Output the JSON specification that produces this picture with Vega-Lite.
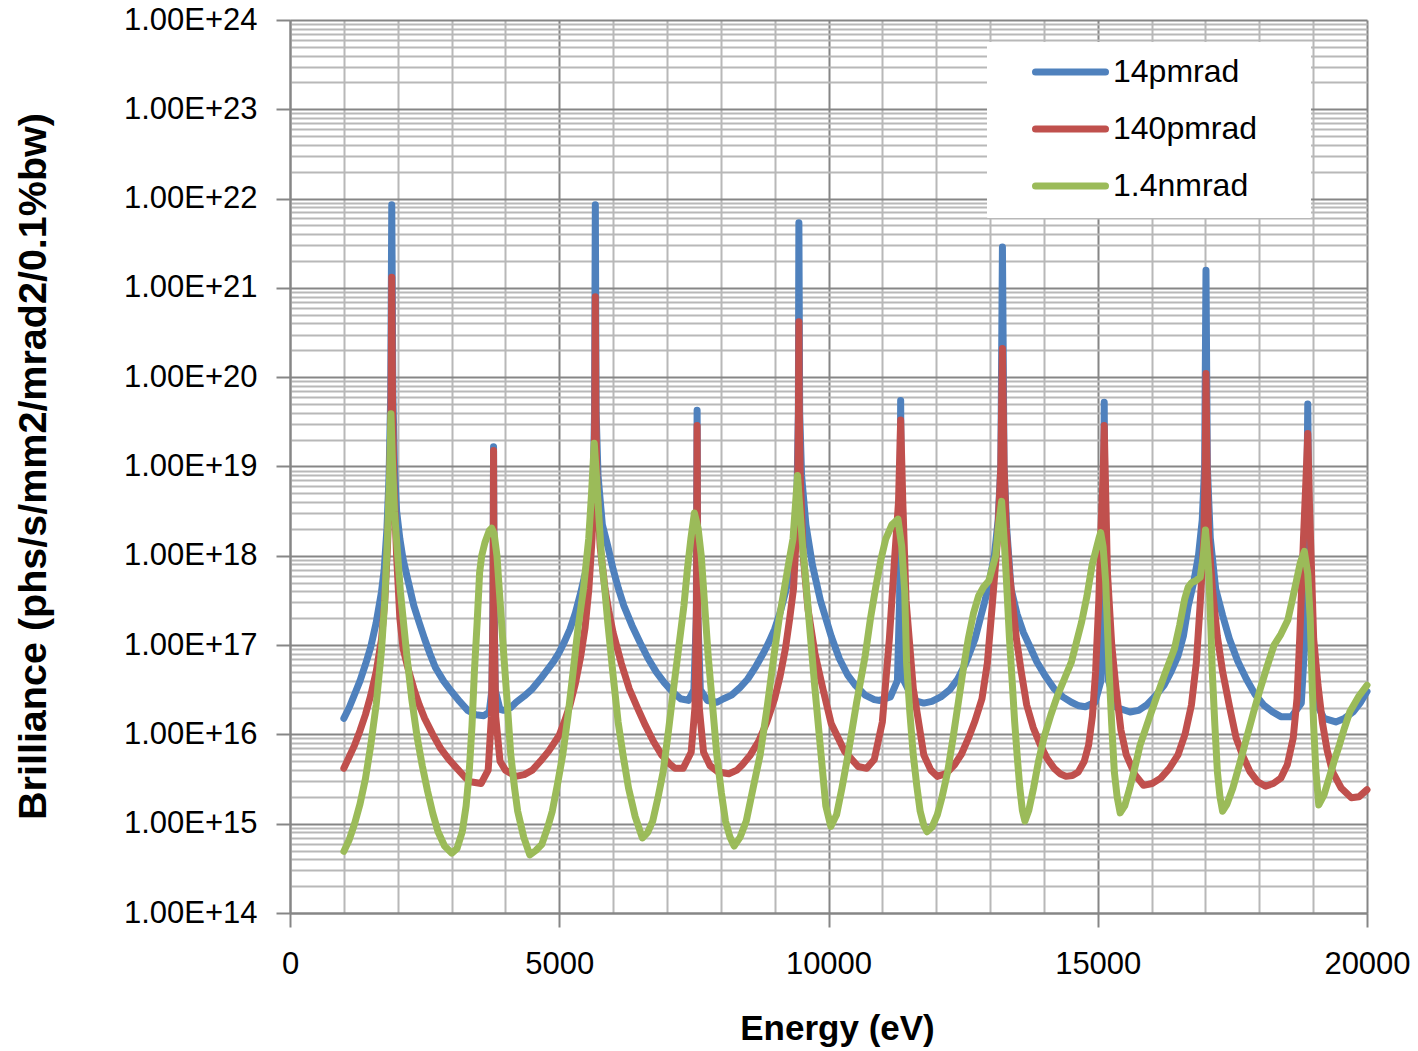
{
  "$schema": "https://vega.github.io/schema/vega-lite/v6.json",
  "width": 1077,
  "height": 893,
  "autosize": {"type": "none"},
  "padding": {"left": 290, "top": 20, "right": 51, "bottom": 138},
  "background": "white",
  "config": {"view": {"stroke": null}, "font": "Liberation Sans"},
  "datasets": {
    "blue": [
      {"E":1000,"B":1.51e16},{"E":1100,"B":2.0e16},{"E":1200,"B":2.82e16},{"E":1300,"B":3.98e16},{"E":1400,"B":6.03e16},{"E":1500,"B":9.55e16},{"E":1600,"B":1.78e17},{"E":1700,"B":3.98e17},{"E":1750,"B":7.08e17},{"E":1800,"B":2.0e18},{"E":1840,"B":7.94e18},{"E":1870,"B":6.31e19},{"E":1890,"B":8.51e21},{"E":1910,"B":6.31e19},{"E":1940,"B":1.0e19},{"E":1980,"B":3.16e18},{"E":2040,"B":1.55e18},{"E":2100,"B":9.12e17},{"E":2200,"B":5.01e17},{"E":2300,"B":2.75e17},{"E":2400,"B":1.78e17},{"E":2500,"B":1.17e17},{"E":2600,"B":7.94e16},{"E":2700,"B":5.62e16},{"E":2850,"B":3.98e16},{"E":3000,"B":3.02e16},{"E":3150,"B":2.34e16},{"E":3300,"B":1.86e16},{"E":3450,"B":1.66e16},{"E":3600,"B":1.62e16},{"E":3700,"B":1.78e16},{"E":3750,"B":3.16e16},{"E":3770,"B":3.16e17},{"E":3780,"B":1.66e19},{"E":3790,"B":3.16e17},{"E":3810,"B":3.16e16},{"E":3900,"B":1.91e16},{"E":3970,"B":1.86e16},{"E":4100,"B":2.0e16},{"E":4200,"B":2.29e16},{"E":4350,"B":2.69e16},{"E":4500,"B":3.24e16},{"E":4650,"B":4.17e16},{"E":4800,"B":5.5e16},{"E":4900,"B":6.61e16},{"E":5000,"B":8.32e16},{"E":5100,"B":1.1e17},{"E":5200,"B":1.51e17},{"E":5300,"B":2.29e17},{"E":5400,"B":3.89e17},{"E":5500,"B":7.08e17},{"E":5580,"B":1.58e18},{"E":5630,"B":5.01e18},{"E":5655,"B":3.98e19},{"E":5670,"B":8.51e21},{"E":5685,"B":3.98e19},{"E":5720,"B":7.94e18},{"E":5800,"B":2.24e18},{"E":5900,"B":1.29e18},{"E":6000,"B":7.08e17},{"E":6100,"B":4.27e17},{"E":6200,"B":2.75e17},{"E":6350,"B":1.66e17},{"E":6500,"B":1.07e17},{"E":6650,"B":7.08e16},{"E":6800,"B":5.01e16},{"E":6950,"B":3.8e16},{"E":7100,"B":3.02e16},{"E":7250,"B":2.51e16},{"E":7400,"B":2.4e16},{"E":7500,"B":3.16e16},{"E":7545,"B":2.0e17},{"E":7560,"B":4.27e19},{"E":7575,"B":2.0e17},{"E":7620,"B":3.16e16},{"E":7750,"B":2.4e16},{"E":7930,"B":2.29e16},{"E":8050,"B":2.51e16},{"E":8200,"B":2.75e16},{"E":8350,"B":3.31e16},{"E":8500,"B":4.17e16},{"E":8650,"B":5.75e16},{"E":8800,"B":8.32e16},{"E":8900,"B":1.1e17},{"E":9000,"B":1.51e17},{"E":9100,"B":2.29e17},{"E":9200,"B":3.89e17},{"E":9300,"B":7.08e17},{"E":9370,"B":1.58e18},{"E":9415,"B":5.01e18},{"E":9440,"B":3.98e19},{"E":9450,"B":5.37e21},{"E":9465,"B":3.98e19},{"E":9500,"B":7.94e18},{"E":9580,"B":2.24e18},{"E":9700,"B":7.94e17},{"E":9850,"B":3.16e17},{"E":10050,"B":1.26e17},{"E":10200,"B":7.08e16},{"E":10360,"B":4.57e16},{"E":10500,"B":3.55e16},{"E":10680,"B":2.75e16},{"E":10850,"B":2.45e16},{"E":10950,"B":2.4e16},{"E":11150,"B":2.63e16},{"E":11280,"B":4.0e16},{"E":11320,"B":3.2e17},{"E":11340,"B":5.5e19},{"E":11360,"B":3.2e17},{"E":11400,"B":4.0e16},{"E":11550,"B":2.6e16},{"E":11650,"B":2.34e16},{"E":11770,"B":2.24e16},{"E":11920,"B":2.34e16},{"E":12085,"B":2.63e16},{"E":12250,"B":3.16e16},{"E":12400,"B":4.17e16},{"E":12550,"B":6.31e16},{"E":12720,"B":1.17e17},{"E":12820,"B":2.0e17},{"E":12915,"B":3.31e17},{"E":13000,"B":5.62e17},{"E":13080,"B":1.0e18},{"E":13150,"B":2.51e18},{"E":13200,"B":1.0e19},{"E":13230,"B":2.88e21},{"E":13260,"B":1.0e19},{"E":13310,"B":2.0e18},{"E":13390,"B":4.27e17},{"E":13500,"B":2.24e17},{"E":13620,"B":1.38e17},{"E":13750,"B":9.33e16},{"E":13870,"B":6.46e16},{"E":14030,"B":4.47e16},{"E":14190,"B":3.24e16},{"E":14350,"B":2.63e16},{"E":14510,"B":2.29e16},{"E":14650,"B":2.09e16},{"E":14770,"B":2.04e16},{"E":14950,"B":2.29e16},{"E":15060,"B":3.98e16},{"E":15100,"B":3.16e17},{"E":15120,"B":5.25e19},{"E":15140,"B":3.16e17},{"E":15200,"B":3.98e16},{"E":15350,"B":2.0e16},{"E":15600,"B":1.78e16},{"E":15760,"B":1.86e16},{"E":15910,"B":2.14e16},{"E":16070,"B":2.69e16},{"E":16230,"B":3.55e16},{"E":16360,"B":5.01e16},{"E":16490,"B":7.59e16},{"E":16590,"B":1.26e17},{"E":16680,"B":2.75e17},{"E":16780,"B":5.01e17},{"E":16870,"B":1.0e18},{"E":16940,"B":2.51e18},{"E":16985,"B":1.0e19},{"E":17010,"B":1.58e21},{"E":17035,"B":1.0e19},{"E":17090,"B":1.58e18},{"E":17190,"B":4.27e17},{"E":17320,"B":2.14e17},{"E":17445,"B":1.17e17},{"E":17600,"B":6.61e16},{"E":17760,"B":4.17e16},{"E":17920,"B":2.82e16},{"E":18080,"B":2.14e16},{"E":18250,"B":1.78e16},{"E":18400,"B":1.58e16},{"E":18600,"B":1.58e16},{"E":18780,"B":2.24e16},{"E":18860,"B":1.58e17},{"E":18900,"B":5.01e19},{"E":18940,"B":1.58e17},{"E":19020,"B":2.51e16},{"E":19200,"B":1.51e16},{"E":19420,"B":1.38e16},{"E":19580,"B":1.51e16},{"E":19740,"B":1.78e16},{"E":19870,"B":2.24e16},{"E":20000,"B":3.02e16}
    ],
    "red": [
      {"E":1000,"B":4.17e15},{"E":1100,"B":5.62e15},{"E":1200,"B":7.59e15},{"E":1300,"B":1.1e16},{"E":1400,"B":1.66e16},{"E":1500,"B":2.75e16},{"E":1600,"B":5.01e16},{"E":1700,"B":1.17e17},{"E":1760,"B":3.16e17},{"E":1810,"B":1.26e18},{"E":1850,"B":6.31e18},{"E":1875,"B":3.98e19},{"E":1890,"B":1.32e21},{"E":1905,"B":3.98e19},{"E":1930,"B":6.31e18},{"E":1980,"B":1.0e18},{"E":2040,"B":2.0e17},{"E":2100,"B":9.12e16},{"E":2200,"B":5.25e16},{"E":2300,"B":3.24e16},{"E":2400,"B":2.14e16},{"E":2500,"B":1.51e16},{"E":2650,"B":1.0e16},{"E":2800,"B":6.92e15},{"E":2950,"B":5.25e15},{"E":3100,"B":4.17e15},{"E":3250,"B":3.31e15},{"E":3350,"B":2.95e15},{"E":3550,"B":2.82e15},{"E":3680,"B":3.98e15},{"E":3740,"B":1.58e16},{"E":3770,"B":2.0e17},{"E":3780,"B":1.51e19},{"E":3790,"B":2.0e17},{"E":3820,"B":1.58e16},{"E":3900,"B":5.01e15},{"E":4000,"B":3.98e15},{"E":4195,"B":3.39e15},{"E":4350,"B":3.55e15},{"E":4500,"B":3.98e15},{"E":4650,"B":5.01e15},{"E":4800,"B":6.46e15},{"E":4900,"B":7.94e15},{"E":5000,"B":9.77e15},{"E":5100,"B":1.41e16},{"E":5200,"B":2.14e16},{"E":5300,"B":3.72e16},{"E":5400,"B":7.59e16},{"E":5480,"B":1.58e17},{"E":5550,"B":4.27e17},{"E":5610,"B":1.58e18},{"E":5645,"B":7.94e18},{"E":5660,"B":3.98e19},{"E":5670,"B":7.94e20},{"E":5680,"B":3.98e19},{"E":5700,"B":6.31e18},{"E":5760,"B":1.26e18},{"E":5850,"B":4.27e17},{"E":5920,"B":2.4e17},{"E":6000,"B":1.38e17},{"E":6150,"B":6.31e16},{"E":6300,"B":3.24e16},{"E":6450,"B":2.0e16},{"E":6600,"B":1.26e16},{"E":6750,"B":8.32e15},{"E":6900,"B":5.89e15},{"E":7050,"B":4.68e15},{"E":7150,"B":4.17e15},{"E":7300,"B":4.17e15},{"E":7450,"B":6.31e15},{"E":7520,"B":2.0e16},{"E":7550,"B":3.16e17},{"E":7560,"B":2.88e19},{"E":7570,"B":3.16e17},{"E":7600,"B":2.0e16},{"E":7680,"B":6.31e15},{"E":7800,"B":4.47e15},{"E":7950,"B":3.8e15},{"E":8150,"B":3.63e15},{"E":8300,"B":3.98e15},{"E":8400,"B":4.57e15},{"E":8550,"B":5.89e15},{"E":8700,"B":8.32e15},{"E":8850,"B":1.35e16},{"E":9000,"B":2.51e16},{"E":9100,"B":4.47e16},{"E":9200,"B":9.12e16},{"E":9280,"B":2.0e17},{"E":9350,"B":4.27e17},{"E":9400,"B":1.58e18},{"E":9430,"B":7.94e18},{"E":9442,"B":3.98e19},{"E":9450,"B":4.17e20},{"E":9458,"B":3.98e19},{"E":9475,"B":7.94e18},{"E":9530,"B":1.0e18},{"E":9620,"B":2.51e17},{"E":9750,"B":7.94e16},{"E":9900,"B":3.16e16},{"E":10050,"B":1.32e16},{"E":10300,"B":6.46e15},{"E":10550,"B":4.37e15},{"E":10710,"B":4.17e15},{"E":10850,"B":5.25e15},{"E":11000,"B":1.38e16},{"E":11130,"B":1.17e17},{"E":11220,"B":7.94e17},{"E":11300,"B":3.98e18},{"E":11340,"B":3.31e19},{"E":11380,"B":3.98e18},{"E":11440,"B":3.16e17},{"E":11575,"B":3.24e16},{"E":11770,"B":5.89e15},{"E":11900,"B":3.98e15},{"E":12020,"B":3.39e15},{"E":12180,"B":3.63e15},{"E":12340,"B":4.57e15},{"E":12470,"B":6.03e15},{"E":12600,"B":9.12e15},{"E":12720,"B":1.41e16},{"E":12850,"B":2.51e16},{"E":12950,"B":6.31e16},{"E":13040,"B":2.75e17},{"E":13140,"B":1.55e18},{"E":13200,"B":1.0e19},{"E":13230,"B":2.09e20},{"E":13260,"B":1.0e19},{"E":13300,"B":2.0e18},{"E":13360,"B":6.46e17},{"E":13490,"B":1.17e17},{"E":13580,"B":5.01e16},{"E":13680,"B":2.14e16},{"E":13800,"B":1.2e16},{"E":13935,"B":7.59e15},{"E":14060,"B":5.37e15},{"E":14190,"B":4.17e15},{"E":14300,"B":3.63e15},{"E":14410,"B":3.39e15},{"E":14530,"B":3.47e15},{"E":14640,"B":3.8e15},{"E":14750,"B":5.01e15},{"E":14830,"B":7.59e15},{"E":14900,"B":1.58e16},{"E":14960,"B":5.01e16},{"E":15020,"B":3.16e17},{"E":15060,"B":2.0e18},{"E":15100,"B":7.94e18},{"E":15120,"B":2.88e19},{"E":15140,"B":7.94e18},{"E":15180,"B":6.46e17},{"E":15260,"B":1.0e17},{"E":15340,"B":3.24e16},{"E":15430,"B":1.12e16},{"E":15530,"B":5.89e15},{"E":15690,"B":3.55e15},{"E":15850,"B":2.69e15},{"E":16010,"B":2.82e15},{"E":16170,"B":3.24e15},{"E":16330,"B":4.17e15},{"E":16490,"B":5.89e15},{"E":16620,"B":1.0e16},{"E":16740,"B":2.14e16},{"E":16830,"B":6.31e16},{"E":16900,"B":2.75e17},{"E":16970,"B":1.55e18},{"E":16995,"B":1.0e19},{"E":17010,"B":1.1e20},{"E":17030,"B":1.0e19},{"E":17060,"B":1.58e18},{"E":17130,"B":4.27e17},{"E":17220,"B":1.26e17},{"E":17320,"B":5.01e16},{"E":17450,"B":2.0e16},{"E":17570,"B":9.12e15},{"E":17700,"B":5.62e15},{"E":17830,"B":3.8e15},{"E":17970,"B":2.95e15},{"E":18115,"B":2.63e15},{"E":18260,"B":2.82e15},{"E":18400,"B":3.24e15},{"E":18520,"B":4.57e15},{"E":18630,"B":9.12e15},{"E":18700,"B":2.51e16},{"E":18750,"B":1.17e17},{"E":18820,"B":1.55e18},{"E":18870,"B":7.94e18},{"E":18900,"B":2.34e19},{"E":18930,"B":3.98e18},{"E":19010,"B":1.17e17},{"E":19090,"B":3.55e16},{"E":19170,"B":1.38e16},{"E":19260,"B":6.61e15},{"E":19360,"B":3.8e15},{"E":19520,"B":2.51e15},{"E":19710,"B":1.95e15},{"E":19850,"B":2.0e15},{"E":20000,"B":2.4e15}
    ],
    "green": [
      {"E":1000,"B":4.9e14},{"E":1100,"B":6.61e14},{"E":1200,"B":1.0e15},{"E":1300,"B":1.66e15},{"E":1400,"B":3.16e15},{"E":1500,"B":7.59e15},{"E":1600,"B":2.14e16},{"E":1700,"B":8.91e16},{"E":1760,"B":3.16e17},{"E":1810,"B":1.58e18},{"E":1850,"B":7.94e18},{"E":1875,"B":3.89e19},{"E":1900,"B":1.26e19},{"E":1940,"B":3.16e18},{"E":1977,"B":1.55e18},{"E":2050,"B":3.98e17},{"E":2170,"B":7.59e16},{"E":2260,"B":2.51e16},{"E":2363,"B":9.12e15},{"E":2456,"B":4.47e15},{"E":2556,"B":2.29e15},{"E":2650,"B":1.32e15},{"E":2749,"B":8.13e14},{"E":2870,"B":5.62e14},{"E":3006,"B":4.68e14},{"E":3100,"B":5.25e14},{"E":3199,"B":8.13e14},{"E":3270,"B":1.58e15},{"E":3328,"B":3.8e15},{"E":3380,"B":1.26e16},{"E":3424,"B":5.01e16},{"E":3475,"B":1.78e17},{"E":3521,"B":6.46e17},{"E":3560,"B":1.0e18},{"E":3620,"B":1.41e18},{"E":3700,"B":1.91e18},{"E":3745,"B":2.04e18},{"E":3790,"B":1.78e18},{"E":3843,"B":1.0e18},{"E":3900,"B":3.16e17},{"E":3971,"B":7.59e16},{"E":4040,"B":2.0e16},{"E":4100,"B":5.89e15},{"E":4170,"B":2.51e15},{"E":4228,"B":1.38e15},{"E":4340,"B":7.08e14},{"E":4453,"B":4.47e14},{"E":4565,"B":5.01e14},{"E":4678,"B":5.89e14},{"E":4780,"B":8.91e14},{"E":4871,"B":1.38e15},{"E":4970,"B":2.82e15},{"E":5064,"B":5.89e15},{"E":5160,"B":1.58e16},{"E":5257,"B":5.01e16},{"E":5350,"B":1.58e17},{"E":5450,"B":4.27e17},{"E":5547,"B":1.55e18},{"E":5600,"B":5.01e18},{"E":5650,"B":1.82e19},{"E":5690,"B":7.94e18},{"E":5740,"B":2.51e18},{"E":5790,"B":8.91e17},{"E":5850,"B":3.98e17},{"E":5900,"B":1.82e17},{"E":6000,"B":4.57e16},{"E":6093,"B":1.38e16},{"E":6190,"B":5.62e15},{"E":6286,"B":2.51e15},{"E":6410,"B":1.2e15},{"E":6543,"B":6.92e14},{"E":6640,"B":7.94e14},{"E":6736,"B":1.07e15},{"E":6830,"B":1.91e15},{"E":6929,"B":3.8e15},{"E":7030,"B":1.12e16},{"E":7122,"B":3.24e16},{"E":7220,"B":9.55e16},{"E":7315,"B":2.75e17},{"E":7380,"B":7.08e17},{"E":7444,"B":1.55e18},{"E":7510,"B":3.02e18},{"E":7580,"B":2.0e18},{"E":7637,"B":1.0e18},{"E":7700,"B":2.82e17},{"E":7765,"B":7.59e16},{"E":7850,"B":2.0e16},{"E":7926,"B":5.89e15},{"E":8010,"B":2.24e15},{"E":8087,"B":1.07e15},{"E":8170,"B":7.08e14},{"E":8248,"B":5.62e14},{"E":8360,"B":7.08e14},{"E":8473,"B":1.07e15},{"E":8600,"B":2.51e15},{"E":8730,"B":5.89e15},{"E":8860,"B":2.0e16},{"E":8987,"B":7.59e16},{"E":9080,"B":1.91e17},{"E":9180,"B":4.27e17},{"E":9270,"B":8.91e17},{"E":9341,"B":1.55e18},{"E":9390,"B":3.98e18},{"E":9425,"B":7.94e18},{"E":9460,"B":3.98e18},{"E":9520,"B":1.26e18},{"E":9566,"B":6.31e17},{"E":9650,"B":1.58e17},{"E":9750,"B":3.16e16},{"E":9850,"B":7.08e15},{"E":9950,"B":1.58e15},{"E":10043,"B":9.33e14},{"E":10150,"B":1.26e15},{"E":10250,"B":2.51e15},{"E":10362,"B":5.89e15},{"E":10520,"B":2.24e16},{"E":10681,"B":7.59e16},{"E":10780,"B":2.0e17},{"E":10872,"B":4.27e17},{"E":10970,"B":8.91e17},{"E":11064,"B":1.55e18},{"E":11180,"B":2.24e18},{"E":11290,"B":2.57e18},{"E":11360,"B":1.26e18},{"E":11415,"B":3.98e17},{"E":11450,"B":6.31e16},{"E":11510,"B":1.78e16},{"E":11574,"B":5.89e15},{"E":11640,"B":2.63e15},{"E":11702,"B":1.38e15},{"E":11770,"B":9.55e14},{"E":11830,"B":8.13e14},{"E":11920,"B":9.12e14},{"E":12021,"B":1.26e15},{"E":12110,"B":2.0e15},{"E":12212,"B":3.8e15},{"E":12310,"B":8.91e15},{"E":12404,"B":2.14e16},{"E":12500,"B":5.25e16},{"E":12595,"B":1.17e17},{"E":12690,"B":2.24e17},{"E":12787,"B":3.55e17},{"E":12880,"B":4.47e17},{"E":12978,"B":5.25e17},{"E":13050,"B":7.59e17},{"E":13106,"B":1.0e18},{"E":13160,"B":2.24e18},{"E":13215,"B":4.07e18},{"E":13260,"B":1.58e18},{"E":13297,"B":6.46e17},{"E":13361,"B":1.17e17},{"E":13410,"B":3.98e16},{"E":13457,"B":1.38e16},{"E":13505,"B":5.62e15},{"E":13553,"B":2.51e15},{"E":13600,"B":1.41e15},{"E":13648,"B":1.07e15},{"E":13720,"B":1.41e15},{"E":13808,"B":2.51e15},{"E":13900,"B":5.01e15},{"E":13999,"B":9.12e15},{"E":14130,"B":1.66e16},{"E":14255,"B":2.75e16},{"E":14380,"B":4.17e16},{"E":14510,"B":6.46e16},{"E":14600,"B":1.05e17},{"E":14701,"B":1.82e17},{"E":14800,"B":3.55e17},{"E":14893,"B":7.76e17},{"E":14960,"B":1.12e18},{"E":15020,"B":1.55e18},{"E":15055,"B":1.82e18},{"E":15100,"B":1.26e18},{"E":15148,"B":5.01e17},{"E":15180,"B":1.58e17},{"E":15212,"B":5.01e16},{"E":15260,"B":1.26e16},{"E":15308,"B":3.8e15},{"E":15360,"B":2.0e15},{"E":15416,"B":1.32e15},{"E":15500,"B":1.58e15},{"E":15595,"B":2.51e15},{"E":15690,"B":4.27e15},{"E":15786,"B":7.59e15},{"E":15950,"B":1.48e16},{"E":16105,"B":2.75e16},{"E":16260,"B":5.01e16},{"E":16424,"B":9.12e16},{"E":16520,"B":1.66e17},{"E":16616,"B":3.31e17},{"E":16680,"B":4.47e17},{"E":16743,"B":5.01e17},{"E":16820,"B":5.25e17},{"E":16903,"B":5.75e17},{"E":16960,"B":1.0e18},{"E":17000,"B":1.95e18},{"E":17040,"B":1.0e18},{"E":17063,"B":6.31e17},{"E":17100,"B":1.58e17},{"E":17127,"B":5.01e16},{"E":17175,"B":1.26e16},{"E":17222,"B":3.8e15},{"E":17270,"B":2.0e15},{"E":17318,"B":1.38e15},{"E":17400,"B":1.66e15},{"E":17509,"B":2.51e15},{"E":17640,"B":4.79e15},{"E":17764,"B":9.12e15},{"E":17890,"B":1.74e16},{"E":18018,"B":3.24e16},{"E":18150,"B":5.89e16},{"E":18274,"B":1.0e17},{"E":18400,"B":1.32e17},{"E":18530,"B":1.91e17},{"E":18610,"B":3.16e17},{"E":18690,"B":5.25e17},{"E":18760,"B":8.32e17},{"E":18837,"B":1.12e18},{"E":18900,"B":6.31e17},{"E":18945,"B":2.0e17},{"E":18980,"B":3.98e16},{"E":19009,"B":1.26e16},{"E":19050,"B":3.98e15},{"E":19104,"B":1.62e15},{"E":19200,"B":2.09e15},{"E":19296,"B":3.24e15},{"E":19390,"B":5.01e15},{"E":19487,"B":7.59e15},{"E":19580,"B":1.17e16},{"E":19679,"B":1.78e16},{"E":19840,"B":2.63e16},{"E":20000,"B":3.55e16}
    ]
  },
  "encoding": {
    "x": {
      "field": "E",
      "type": "quantitative",
      "scale": {"domain": [0, 20000], "nice": false, "zero": false},
      "axis": {
        "values": [0,1000,2000,3000,4000,5000,6000,7000,8000,9000,10000,11000,12000,13000,14000,15000,16000,17000,18000,19000,20000],
        "format": "d",
        "labelExpr": "datum.value % 5000 == 0 ? datum.label : ''",
        "labelFont": "Liberation Sans",
        "labelFontSize": 31,
        "labelColor": "#000000",
        "labelPadding": 22,
        "labelOverlap": false,
        "labelFlush": false,
        "labelBound": false,
        "tickSize": 14,
        "tickWidth": 2,
        "tickColor": "#868686",
        "tickOpacity": {"condition": {"test": "datum.value % 5000 == 0", "value": 1}, "value": 0},
        "domainColor": "#868686",
        "domainWidth": 2,
        "grid": true,
        "gridColor": {"condition": {"test": "datum.value % 5000 == 0", "value": "#868686"}, "value": "#b8b8b8"},
        "gridWidth": 2,
        "title": "Energy (eV)",
        "titleFont": "Liberation Sans",
        "titleFontSize": 35,
        "titleFontWeight": "bold",
        "titleColor": "#000000",
        "titleAlign": "center",
        "titleBaseline": "alphabetic",
        "titleX": 547,
        "titleY": 126
      }
    },
    "y": {
      "field": "B",
      "type": "quantitative",
      "scale": {"type": "log", "domain": [1e14, 1e24], "nice": false},
      "axis": {
        "values": [1e14,2e14,3e14,4e14,5e14,6e14,7e14,8e14,9e14,1e15,2e15,3e15,4e15,5e15,6e15,7e15,8e15,9e15,1e16,2e16,3e16,4e16,5e16,6e16,7e16,8e16,9e16,1e17,2e17,3e17,4e17,5e17,6e17,7e17,8e17,9e17,1e18,2e18,3e18,4e18,5e18,6e18,7e18,8e18,9e18,1e19,2e19,3e19,4e19,5e19,6e19,7e19,8e19,9e19,1e20,2e20,3e20,4e20,5e20,6e20,7e20,8e20,9e20,1e21,2e21,3e21,4e21,5e21,6e21,7e21,8e21,9e21,1e22,2e22,3e22,4e22,5e22,6e22,7e22,8e22,9e22,1e23,2e23,3e23,4e23,5e23,6e23,7e23,8e23,9e23,1e24],
        "labelExpr": "abs(log(datum.value)/LN10 - round(log(datum.value)/LN10)) < 0.001 ? '1.00E+' + round(log(datum.value)/LN10) : ''",
        "labelFont": "Liberation Sans",
        "labelFontSize": 31,
        "labelColor": "#000000",
        "labelPadding": 19,
        "labelOverlap": false,
        "labelFlush": false,
        "labelBound": false,
        "tickSize": 14,
        "tickWidth": 2,
        "tickColor": "#868686",
        "tickOpacity": {"condition": {"test": "abs(log(datum.value)/LN10 - round(log(datum.value)/LN10)) < 0.001", "value": 1}, "value": 0},
        "domainColor": "#868686",
        "domainWidth": 2,
        "grid": true,
        "gridColor": {"condition": {"test": "abs(log(datum.value)/LN10 - round(log(datum.value)/LN10)) < 0.001", "value": "#868686"}, "value": "#b8b8b8"},
        "gridWidth": 2,
        "title": "Brilliance (phs/s/mm2/mrad2/0.1%bw)",
        "titleFont": "Liberation Sans",
        "titleFontSize": 39.5,
        "titleFontWeight": "bold",
        "titleColor": "#000000",
        "titleAngle": -90,
        "titleAlign": "center",
        "titleBaseline": "alphabetic",
        "titleX": -245,
        "titleY": 446
      }
    }
  },
  "layer": [
    {
      "data": {"name": "blue"},
      "mark": {"type": "line", "strokeWidth": 7, "strokeJoin": "round", "strokeCap": "round"},
      "encoding": {
        "color": {
          "datum": "14pmrad",
          "type": "nominal",
          "scale": {"domain": ["14pmrad", "140pmrad", "1.4nmrad"], "range": ["#4F81BD", "#C0504D", "#9BBB59"]},
          "legend": {
            "orient": "none",
            "legendX": 697,
            "legendY": 22,
            "title": null,
            "fillColor": "white",
            "strokeColor": "white",
            "padding": 15,
            "clipHeight": 30,
            "symbolType": "stroke",
            "symbolSize": 4900,
            "symbolStrokeWidth": 7,
            "symbolOffset": 30,
            "labelFont": "Liberation Sans",
            "labelFontSize": 32,
            "labelColor": "#000000",
            "labelOffset": 4,
            "labelLimit": 1000,
            "rowPadding": 25,
            "encode": {
              "symbols": {"update": {"strokeCap": {"value": "round"}}},
              "entries": {"update": {"width": {"value": 293}}}
            }
          }
        }
      }
    },
    {
      "data": {"name": "red"},
      "mark": {"type": "line", "strokeWidth": 7, "strokeJoin": "round", "strokeCap": "round"},
      "encoding": {"color": {"datum": "140pmrad", "type": "nominal"}}
    },
    {
      "data": {"name": "green"},
      "mark": {"type": "line", "strokeWidth": 7, "strokeJoin": "round", "strokeCap": "round"},
      "encoding": {"color": {"datum": "1.4nmrad", "type": "nominal"}}
    }
  ]
}
